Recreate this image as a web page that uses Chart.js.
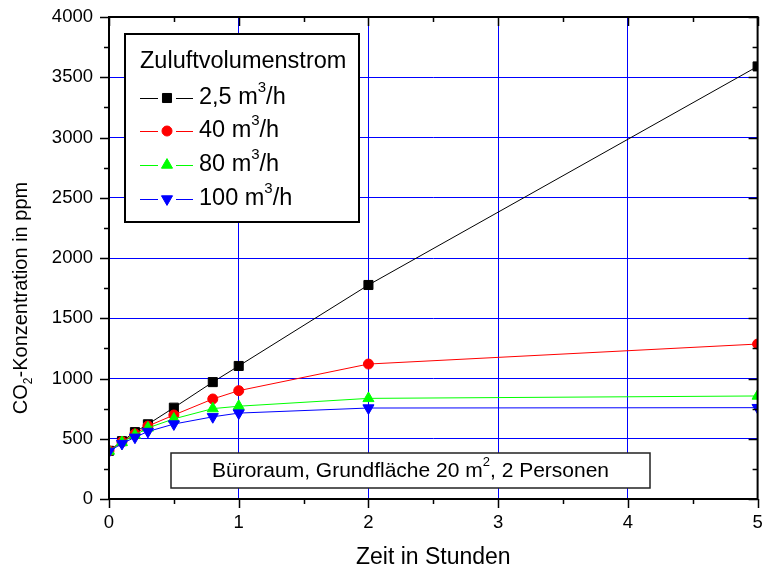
<!DOCTYPE html>
<html>
<head>
<meta charset="utf-8">
<script src="https://cdn.jsdelivr.net/npm/chart.js@4"></script>
<style>
  body { margin: 0; background: #fff; }
  #wrap { width: 765px; height: 570px; }
</style>
</head>
<body>
<div id="wrap"><canvas id="myChart" width="765" height="570"></canvas></div>
<script>
// data
var hours = [0, 0.1, 0.2, 0.3, 0.5, 0.8, 1, 2, 5];
var co2_2_5 = [400, 480, 555, 620, 758, 970, 1104, 1776, 3590];
var co2_40 = [400, 475, 540, 605, 697, 830, 899, 1120, 1286];
var co2_80 = [398, 470, 530, 590, 665, 750, 770, 835, 855];
var co2_100 = [395, 460, 512, 560, 622, 682, 713, 755, 758];
var seriesLabels = ['2,5', '40', '80', '100'];
var xTicks = [0, 1, 2, 3, 4, 5];
var yTicks = [0, 500, 1000, 1500, 2000, 2500, 3000, 3500, 4000];

var FONT = "'Liberation Sans', Arial, sans-serif";
var colors = ['#000000', '#ff0000', '#00ff00', '#0000ff'];
var styles = [
  { pointStyle: 'rect', radius: 6.4, rotation: 0 },
  { pointStyle: 'circle', radius: 5, rotation: 0 },
  { pointStyle: 'triangle', radius: 6.4, rotation: 0 },
  { pointStyle: 'triangle', radius: 6.4, rotation: 180 }
];
var allSeries = [co2_2_5, co2_40, co2_80, co2_100];

function toPoints(arr) {
  return hours.map(function (h, i) { return { x: h, y: arr[i] }; });
}

// text with superscript / subscript pieces: [text, 'n'|'sup'|'sub']
function richWidth(ctx, parts, size) {
  var w = 0;
  parts.forEach(function (p) {
    ctx.font = (p[1] === 'n' ? size : Math.round(size * 0.62)) + 'px ' + FONT;
    w += ctx.measureText(p[0]).width;
  });
  return w;
}
function drawRich(ctx, parts, x, y, size) {
  ctx.textBaseline = 'middle';
  ctx.textAlign = 'left';
  parts.forEach(function (p) {
    var dy = 0, s = size;
    if (p[1] === 'sup') { s = Math.round(size * 0.62); dy = -size * 0.42; }
    if (p[1] === 'sub') { s = Math.round(size * 0.62); dy = size * 0.38; }
    ctx.font = s + 'px ' + FONT;
    ctx.fillText(p[0], x, y + dy);
    x += ctx.measureText(p[0]).width;
  });
}

var decor = {
  id: 'decor',
  afterDraw: function (chart) {
    var ctx = chart.ctx;
    var a = chart.chartArea;
    var xs = chart.scales.x, ys = chart.scales.y;
    ctx.save();
    ctx.fillStyle = '#000';
    ctx.strokeStyle = '#000';

    // annotation box
    var bx = 171, by = 453, bw = 479, bh = 35;
    ctx.fillStyle = '#fff';
    ctx.fillRect(bx, by, bw, bh);
    ctx.lineWidth = 1.5;
    ctx.strokeStyle = '#222';
    ctx.strokeRect(bx, by, bw, bh);
    ctx.fillStyle = '#000';
    var ann = [['Büroraum, Grundfläche 20 m', 'n'], ['2', 'sup'], [', 2 Personen', 'n']];
    var aw = richWidth(ctx, ann, 21);
    drawRich(ctx, ann, bx + bw / 2 - aw / 2, by + bh / 2 + 1, 21);

    // frame
    ctx.strokeStyle = '#000';
    ctx.lineWidth = 2;
    ctx.strokeRect(a.left, a.top, a.right - a.left, a.bottom - a.top);

    // ticks
    ctx.lineWidth = 1.5;
    ctx.beginPath();
    for (var v = 0; v <= 4000; v += 250) {
      var py = Math.round(ys.getPixelForValue(v)) + 0.5;
      var major = v % 500 === 0;
      ctx.moveTo(a.left, py); ctx.lineTo(a.left - (major ? 9 : 5), py);
      ctx.moveTo(a.right, py); ctx.lineTo(a.right - (major ? 9 : 5), py);
    }
    for (var h = 0; h <= 5; h += 0.5) {
      var px = Math.round(xs.getPixelForValue(h)) + 0.5;
      var maj = h % 1 === 0;
      ctx.moveTo(px, a.bottom); ctx.lineTo(px, a.bottom + (maj ? 9 : 5));
      ctx.moveTo(px, a.top); ctx.lineTo(px, a.top + (maj ? 9 : 5));
    }
    ctx.stroke();

    // axis titles
    var xt = [['Zeit in Stunden', 'n']];
    var xw = richWidth(ctx, xt, 23);
    drawRich(ctx, xt, (a.left + a.right) / 2 - xw / 2, 558, 23);
    ctx.save();
    ctx.translate(21, (a.top + a.bottom) / 2 + 40);
    ctx.rotate(-Math.PI / 2);
    var yt = [['CO', 'n'], ['2', 'sub'], ['-Konzentration in ppm', 'n']];
    var yw = richWidth(ctx, yt, 20);
    drawRich(ctx, yt, -yw / 2, 0, 20);
    ctx.restore();

    // legend
    var lx = 125, ly = 34, lw = 234, lh = 188;
    ctx.fillStyle = '#fff';
    ctx.fillRect(lx, ly, lw, lh);
    ctx.lineWidth = 2;
    ctx.strokeStyle = '#000';
    ctx.strokeRect(lx, ly, lw, lh);
    ctx.fillStyle = '#000';
    drawRich(ctx, [['Zuluftvolumenstrom', 'n']], 140, 62, 23.5);
    var rows = [98, 131, 165, 199];
    seriesLabels.forEach(function (lab, i) {
      var ry = rows[i];
      ctx.strokeStyle = colors[i];
      ctx.lineWidth = 1;
      ctx.beginPath();
      ctx.moveTo(140, ry + 0.5); ctx.lineTo(158, ry + 0.5);
      ctx.moveTo(176, ry + 0.5); ctx.lineTo(193, ry + 0.5);
      ctx.stroke();
      ctx.fillStyle = colors[i];
      ctx.strokeStyle = colors[i];
      Chart.helpers.drawPoint(ctx, {
        pointStyle: styles[i].pointStyle,
        radius: styles[i].radius,
        rotation: styles[i].rotation,
        borderWidth: 1
      }, 167, ry);
      ctx.fillStyle = '#000';
      drawRich(ctx, [[lab + ' m', 'n'], ['3', 'sup'], ['/h', 'n']], 199, ry, 23.5);
    });
    ctx.restore();
  }
};

var ctx = document.getElementById('myChart').getContext('2d');
var chart = new Chart(ctx, {
  type: 'scatter',
  data: {
    datasets: allSeries.map(function (arr, i) {
      return {
        label: seriesLabels[i] + ' m³/h',
        data: toPoints(arr),
        showLine: true,
        borderColor: colors[i],
        backgroundColor: colors[i],
        borderWidth: 1,
        pointStyle: styles[i].pointStyle,
        pointRadius: styles[i].radius,
        pointRotation: styles[i].rotation,
        pointBorderWidth: 1,
        pointBorderColor: colors[i],
        pointBackgroundColor: colors[i],
        order: 3 - i
      };
    })
  },
  options: {
    responsive: false,
    animation: false,
    layout: { padding: { top: 17, right: 4, left: 0, bottom: 0 } },
    plugins: {
      legend: { display: false },
      tooltip: { enabled: false }
    },
    scales: {
      x: {
        type: 'linear',
        min: 0,
        max: 5,
        afterBuildTicks: function (s) { s.ticks = xTicks.map(function (v) { return { value: v }; }); },
        ticks: { color: '#000', font: { family: FONT, size: 18.5 }, padding: 13, maxRotation: 0,
          callback: function (v) { return String(v); } },
        grid: { color: '#0000ff', lineWidth: 1, drawTicks: false },
        border: { display: false },
        afterFit: function (s) { s.height = 71; s.paddingLeft = 0; s.paddingRight = 0; }
      },
      y: {
        min: 0,
        max: 4000,
        afterBuildTicks: function (s) { s.ticks = yTicks.map(function (v) { return { value: v }; }); },
        ticks: { color: '#000', font: { family: FONT, size: 18.5 }, padding: 16,
          callback: function (v) { return String(v); } },
        grid: { color: '#0000ff', lineWidth: 1, drawTicks: false },
        border: { display: false },
        afterFit: function (s) { s.width = 109; s.paddingTop = 0; s.paddingBottom = 0; }
      }
    }
  },
  plugins: [decor]
});
</script>
</body>
</html>
